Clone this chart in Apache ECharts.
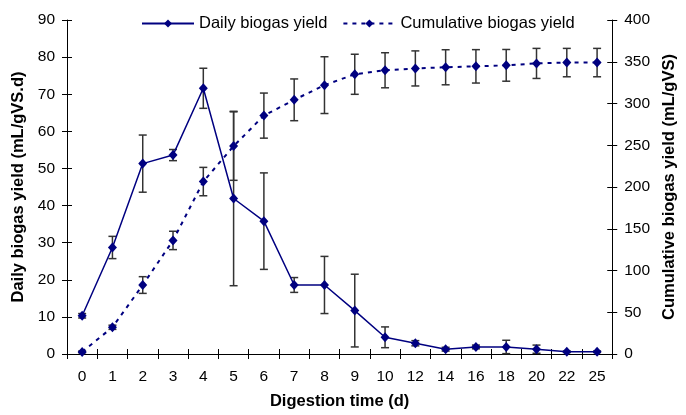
<!DOCTYPE html>
<html>
<head>
<meta charset="utf-8">
<script src="https://cdn.jsdelivr.net/npm/echarts@6/dist/echarts.min.js"></script>
<style>
  html, body { margin: 0; padding: 0; background: #fff; }
  #chart { width: 686px; height: 415px; }
</style>
</head>
<body>
<div id="chart"></div>
<script>
// Digestion days (category axis, evenly spaced)
const days = ['0','1','2','3','4','5','6','7','8','9','10','12','14','16','18','20','22','25'];
// Daily biogas yield (mL/gVS.d) and its standard deviation
const dailyYield = [10.3, 28.7, 51.3, 53.6, 71.6, 41.9, 35.8, 18.6, 18.6, 11.7, 4.5, 2.9, 1.3, 1.9, 1.9, 1.3, 0.6, 0.6];
const dailyErr   = [0.6, 3.0, 7.7, 1.5, 5.4, 23.5, 13.0, 2.0, 7.7, 9.8, 2.8, 0.7, 0.5, 0.5, 1.8, 1.1, 0.2, 0.2];
// Cumulative biogas yield (mL/gVS) and its standard deviation
const cumYield = [2.5, 32, 82.6, 136, 206.5, 249, 285.5, 304.4, 322, 335, 339.8, 342, 343.4, 344.5, 345.7, 348, 349, 349];
const cumErr   = [1, 2.5, 10, 11, 17, 41, 27, 25, 34, 24, 21, 21, 21, 20, 19, 18, 17, 17];
// Axis tick settings
const leftTicks = { min: 0, max: 90, interval: 10 };
const rightTicks = { min: 0, max: 400, interval: 50 };

const NAVY = '#000080';
const FONT = 'Liberation Sans, Arial, sans-serif';

function errorData(vals, errs) {
  return vals.map((v, i) => [i, v - errs[i], v + errs[i]]);
}

// Vertical error bar with caps, positioned through the axis scales
function renderErrorBar(params, api) {
  const x = api.value(0);
  const lo = api.coord([x, api.value(1)]);
  const hi = api.coord([x, api.value(2)]);
  const cap = 4;
  const style = { stroke: '#333', lineWidth: 1.5, fill: null };
  return {
    type: 'group',
    children: [
      { type: 'line', shape: { x1: lo[0], y1: lo[1], x2: hi[0], y2: hi[1] }, style },
      { type: 'line', shape: { x1: hi[0] - cap, y1: hi[1], x2: hi[0] + cap, y2: hi[1] }, style },
      { type: 'line', shape: { x1: lo[0] - cap, y1: lo[1], x2: lo[0] + cap, y2: lo[1] }, style }
    ]
  };
}

const axisLine = { show: true, lineStyle: { color: '#000', width: 1 } };
const labelStyle = { color: '#000', fontSize: 15.5, fontFamily: FONT };
const nameStyle = { color: '#000', fontSize: 16.5, fontWeight: 'bold', fontFamily: FONT };
const outTick = { show: true, inside: false, length: 5, lineStyle: { color: '#000' } };
const inTick = { show: true, inside: true, length: 5, lineStyle: { color: '#000' } };

const chart = echarts.init(document.getElementById('chart'), null, { renderer: 'canvas' });
chart.setOption({
  backgroundColor: '#fff',
  animation: false,
  grid: { left: 67, right: 63, top: 20, bottom: 56, containLabel: false },
  legend: {
    top: 10,
    left: 136,
    itemWidth: 52,
    itemHeight: 10,
    itemGap: 15,
    textStyle: { color: '#000', fontSize: 16.5, fontFamily: FONT },
    data: ['Daily biogas yield', 'Cumulative biogas yield']
  },
  xAxis: [
    {
      type: 'category', data: days, boundaryGap: true, position: 'bottom',
      axisLine, axisTick: outTick,
      axisLabel: Object.assign({ margin: 15 }, labelStyle),
      name: 'Digestion time (d)', nameLocation: 'middle', nameGap: 39, nameTextStyle: nameStyle,
      splitLine: { show: false }
    },
    {
      type: 'category', data: days, boundaryGap: true, position: 'bottom',
      axisLine: { show: false }, axisTick: inTick,
      axisLabel: { show: false }, splitLine: { show: false }
    }
  ],
  yAxis: [
    Object.assign({
      type: 'value', position: 'left',
      axisLine, axisTick: outTick,
      axisLabel: Object.assign({ margin: 12 }, labelStyle),
      name: 'Daily biogas yield (mL/gVS.d)', nameLocation: 'middle', nameGap: 40, nameTextStyle: nameStyle,
      splitLine: { show: false }
    }, leftTicks),
    Object.assign({
      type: 'value', position: 'right',
      axisLine, axisTick: outTick,
      axisLabel: Object.assign({ margin: 12 }, labelStyle),
      name: 'Cumulative biogas yield (mL/gVS)', nameLocation: 'middle', nameGap: 40, nameTextStyle: nameStyle,
      splitLine: { show: false }
    }, rightTicks),
    Object.assign({
      type: 'value', position: 'left',
      axisLine: { show: false }, axisTick: inTick,
      axisLabel: { show: false }, splitLine: { show: false }
    }, leftTicks),
    Object.assign({
      type: 'value', position: 'right',
      axisLine: { show: false }, axisTick: inTick,
      axisLabel: { show: false }, splitLine: { show: false }
    }, rightTicks)
  ],
  series: [
    {
      name: 'Daily error', type: 'custom', xAxisIndex: 0, yAxisIndex: 0, z: 1,
      renderItem: renderErrorBar, data: errorData(dailyYield, dailyErr), silent: true
    },
    {
      name: 'Cumulative error', type: 'custom', xAxisIndex: 0, yAxisIndex: 1, z: 1,
      renderItem: renderErrorBar, data: errorData(cumYield, cumErr), silent: true
    },
    {
      name: 'Daily biogas yield', type: 'line', xAxisIndex: 0, yAxisIndex: 0, z: 3,
      data: dailyYield, symbol: 'diamond', symbolSize: [9, 10], showAllSymbol: true,
      lineStyle: { color: NAVY, width: 1.5 }, itemStyle: { color: NAVY }
    },
    {
      name: 'Cumulative biogas yield', type: 'line', xAxisIndex: 0, yAxisIndex: 1, z: 3,
      data: cumYield, symbol: 'diamond', symbolSize: [9, 10], showAllSymbol: true,
      lineStyle: { color: NAVY, width: 2, type: [4, 5] }, itemStyle: { color: NAVY }
    }
  ]
});
</script>
</body>
</html>
